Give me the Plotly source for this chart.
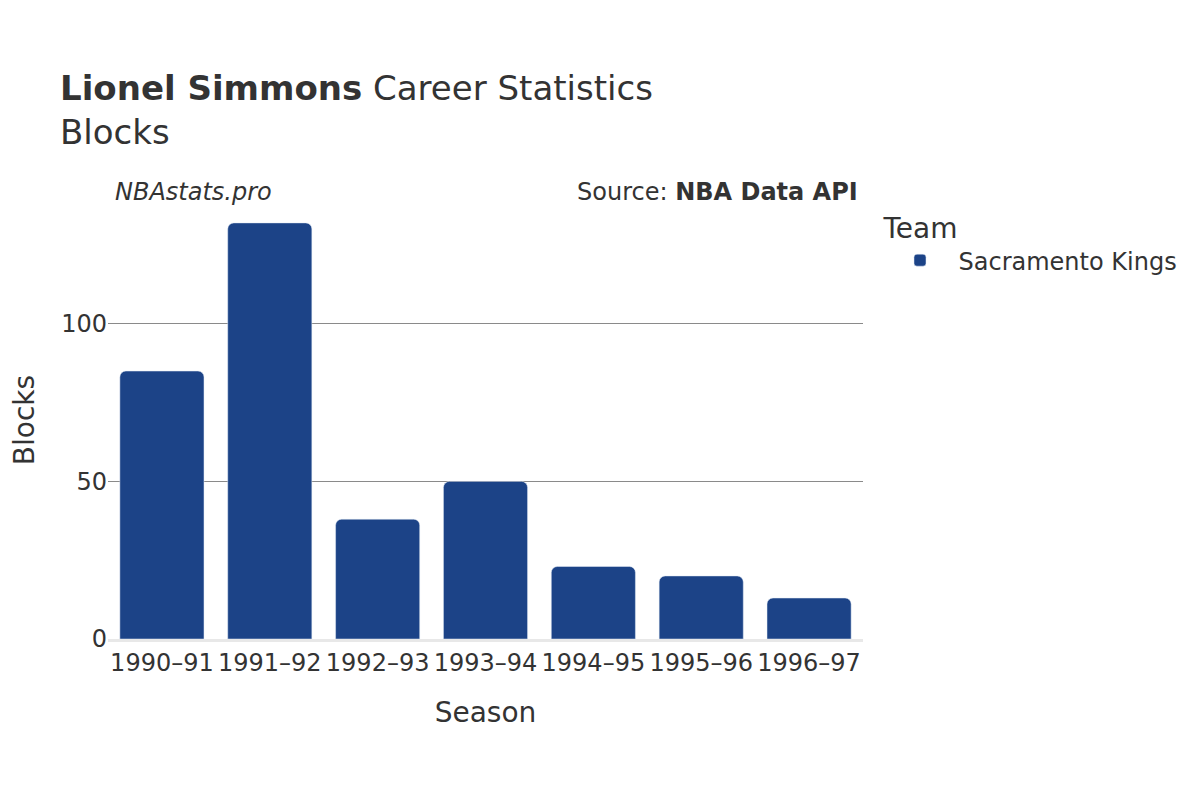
import plotly.graph_objects as go

seasons = ["1990–91", "1991–92", "1992–93", "1993–94", "1994–95", "1995–96", "1996–97"]
blocks = [85, 132, 38, 50, 23, 20, 13]
team = "Sacramento Kings"
bar_color = "#1c4387"

fig = go.Figure()
fig.add_trace(go.Bar(
    x=seasons, y=blocks, name=team,
    marker=dict(color=bar_color, cornerradius=6),
    showlegend=True,
))

font = "DejaVu Sans, sans-serif"
fig.update_layout(
    width=1200, height=800,
    font=dict(family=font, color="#333333", size=24),
    paper_bgcolor="white", plot_bgcolor="white",
    margin=dict(l=100, r=345, t=193, b=169),
    title=dict(
        text="<b>Lionel Simmons</b> Career Statistics<br>Blocks",
        x=52/1200, xanchor="left", y=1-92/800, yanchor="middle",
        font=dict(size=34, color="#333333"),
    ),
    bargap=0.22,
    legend=dict(
        title=dict(text="Team", font=dict(size=28)),
        font=dict(size=24),
        x=1.0245, xanchor="left", y=0.9985, yanchor="top",
        itemwidth=67,
    ),
    xaxis=dict(
        title=dict(text="Season", font=dict(size=28), standoff=27),
        showgrid=False, zeroline=False,
        showline=True, linecolor="#e8e8e8", linewidth=3,
        ticks="", tickfont=dict(size=24),
    ),
    yaxis=dict(
        title=dict(text="Blocks", font=dict(size=28), standoff=22),
        showgrid=True, gridcolor="#8a8a8a", gridwidth=1,
        zeroline=False, tickvals=[0, 50, 100], ticks="",
        tickfont=dict(size=24),
    ),
    annotations=[
        dict(text="<i>NBAstats.pro</i>", xref="paper", yref="paper",
             x=0.0066, y=1.0, xanchor="left", yanchor="middle",
             showarrow=False, font=dict(size=24, color="#333333"), yshift=9),
        dict(text="Source: <b>NBA Data API</b>", xref="paper", yref="paper",
             x=0.996, y=1.0, xanchor="right", yanchor="middle",
             showarrow=False, font=dict(size=24, color="#333333"), yshift=9),
    ],
)

fig.write_html("out.html")
